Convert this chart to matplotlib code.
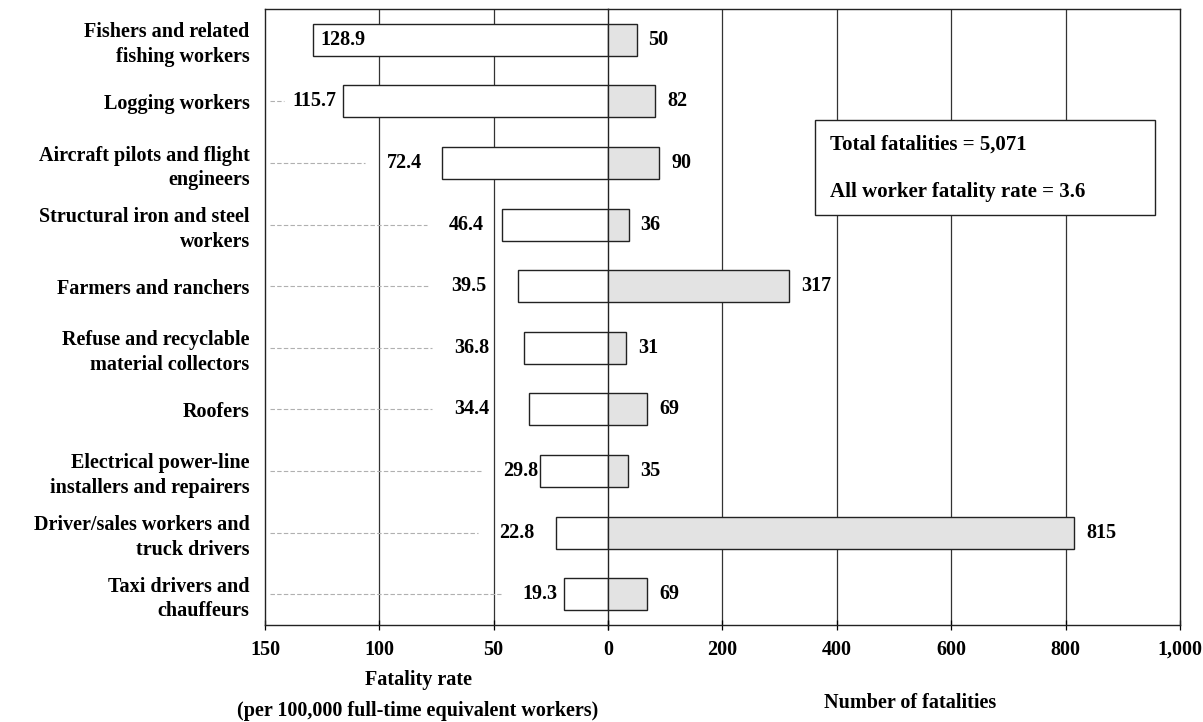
import matplotlib
matplotlib.use('Agg')
import matplotlib.pyplot as plt
from matplotlib.patches import Rectangle

# ---- data ----
categories = ["Fishers and related\nfishing workers", "Logging workers",
              "Aircraft pilots and flight\nengineers", "Structural iron and steel\nworkers",
              "Farmers and ranchers", "Refuse and recyclable\nmaterial collectors",
              "Roofers", "Electrical power-line\ninstallers and repairers",
              "Driver/sales workers and\ntruck drivers", "Taxi drivers and\nchauffeurs"]
fatality_rate = [128.9, 115.7, 72.4, 46.4, 39.5, 36.8, 34.4, 29.8, 22.8, 19.3]
fatalities = [50, 82, 90, 36, 317, 31, 69, 35, 815, 69]
rate_ticks = [150, 100, 50, 0]
rate_tick_labels = ["150", "100", "50", "0"]
count_ticks = [0, 200, 400, 600, 800, 1000]
count_tick_labels = ["", "200", "400", "600", "800", "1,000"]
box_lines = ["Total fatalities = 5,071", "All worker fatality rate = 3.6"]

# ---- styling (label gaps in pixels) ----
rate_label_gap = [None, 7, 20, 18, 31, 35, 40, 2, 21, 6]

plt.rcParams['font.family'] = ['Liberation Serif', 'DejaVu Serif']
plt.rcParams['font.weight'] = 'bold'
FS = 14.5

W, H = 1203, 722
fig = plt.figure(figsize=(W / 100, H / 100), dpi=100)
fig.patch.set_facecolor('white')

x_left, x_zero, x_right = 265, 608, 1180
y_top, y_bot = 9, 625
axL = fig.add_axes([x_left / W, (H - y_bot) / H, (x_zero - x_left) / W, (y_bot - y_top) / H])
axR = fig.add_axes([x_zero / W, (H - y_bot) / H, (x_right - x_zero) / W, (y_bot - y_top) / H])

n = len(categories)
ypos = list(range(n))
for ax in (axL, axR):
    ax.set_ylim(n - 0.5, -0.5)
    ax.set_facecolor('none')
    for s in ax.spines.values():
        s.set_linewidth(1.0)
        s.set_color('#222222')

axL.set_xlim(150, 0)
axR.set_xlim(0, 1000)

# grid lines
for t in rate_ticks[1:-1]:
    axL.axvline(t, color='#333333', lw=0.9, zorder=0)
for t in count_ticks[1:-1]:
    axR.axvline(t, color='#333333', lw=0.9, zorder=0)

bh = 0.52
axL.barh(ypos, fatality_rate, height=bh, color='white', edgecolor='#222222', lw=1.0, zorder=2)
axR.barh(ypos, fatalities, height=bh, color='#e3e3e3', edgecolor='#222222', lw=1.0, zorder=2)

axR.spines['left'].set_visible(False)

# ticks
axL.set_xticks(rate_ticks)
axL.set_xticklabels(rate_tick_labels)
axR.set_xticks(count_ticks)
axR.set_xticklabels(count_tick_labels)
for ax in (axL, axR):
    ax.tick_params(axis='x', direction='inout', length=7, width=0.9, pad=7, labelsize=FS)
axL.set_yticks(ypos)
axL.set_yticklabels(categories, fontsize=FS, linespacing=1.3)
axL.tick_params(axis='y', length=0, pad=11)
axR.set_yticks([])

# value labels
rate_texts = []
for i, (r, g) in enumerate(zip(fatality_rate, rate_label_gap)):
    if g is None:
        t = axL.annotate(f"{r:.1f}", xy=(r, i), xytext=(7, 0), textcoords='offset pixels',
                         ha='left', va='center', fontsize=FS, zorder=4)
    else:
        t = axL.annotate(f"{r:.1f}", xy=(r, i), xytext=(-g, 0), textcoords='offset pixels',
                         ha='right', va='center', fontsize=FS, zorder=4)
    rate_texts.append(t)
for i, c in enumerate(fatalities):
    axR.annotate(f"{c}", xy=(c, i), xytext=(12, 0), textcoords='offset pixels',
                 ha='left', va='center', fontsize=FS, zorder=4)

# leader lines
fig.canvas.draw()
renderer = fig.canvas.get_renderer()
inv = axL.transData.inverted()
for i, (t, g) in enumerate(zip(rate_texts, rate_label_gap)):
    if g is None:
        continue
    bb = t.get_window_extent(renderer)
    gap_px = 8 if i == 1 else 22
    x_end = inv.transform((bb.x0 - gap_px, 0))[0]
    axL.plot([148, x_end], [i, i], ls=(0, (4, 2)), color='#b0b0b0', lw=0.8, zorder=1)

# info box
bx0, by0, bx1, by1 = 815, 120, 1155, 215
fig.add_artist(Rectangle((bx0 / W, 1 - by1 / H), (bx1 - bx0) / W, (by1 - by0) / H,
                         transform=fig.transFigure, facecolor='white', edgecolor='#222222',
                         lw=1.0, zorder=5))
fig.text(830 / W, 1 - 145 / H, box_lines[0], ha='left', va='center', fontsize=15, zorder=6)
fig.text(830 / W, 1 - 192 / H, box_lines[1], ha='left', va='center', fontsize=15, zorder=6)

# axis titles
fig.text(418 / W, 1 - 680 / H, "Fatality rate", ha='center', va='center', fontsize=FS)
fig.text(418 / W, 1 - 711 / H, "(per 100,000 full-time equivalent workers)", ha='center',
         va='center', fontsize=FS)
fig.text(910 / W, 1 - 703 / H, "Number of fatalities", ha='center', va='center', fontsize=FS)

fig.savefig('out.png', dpi=100)
